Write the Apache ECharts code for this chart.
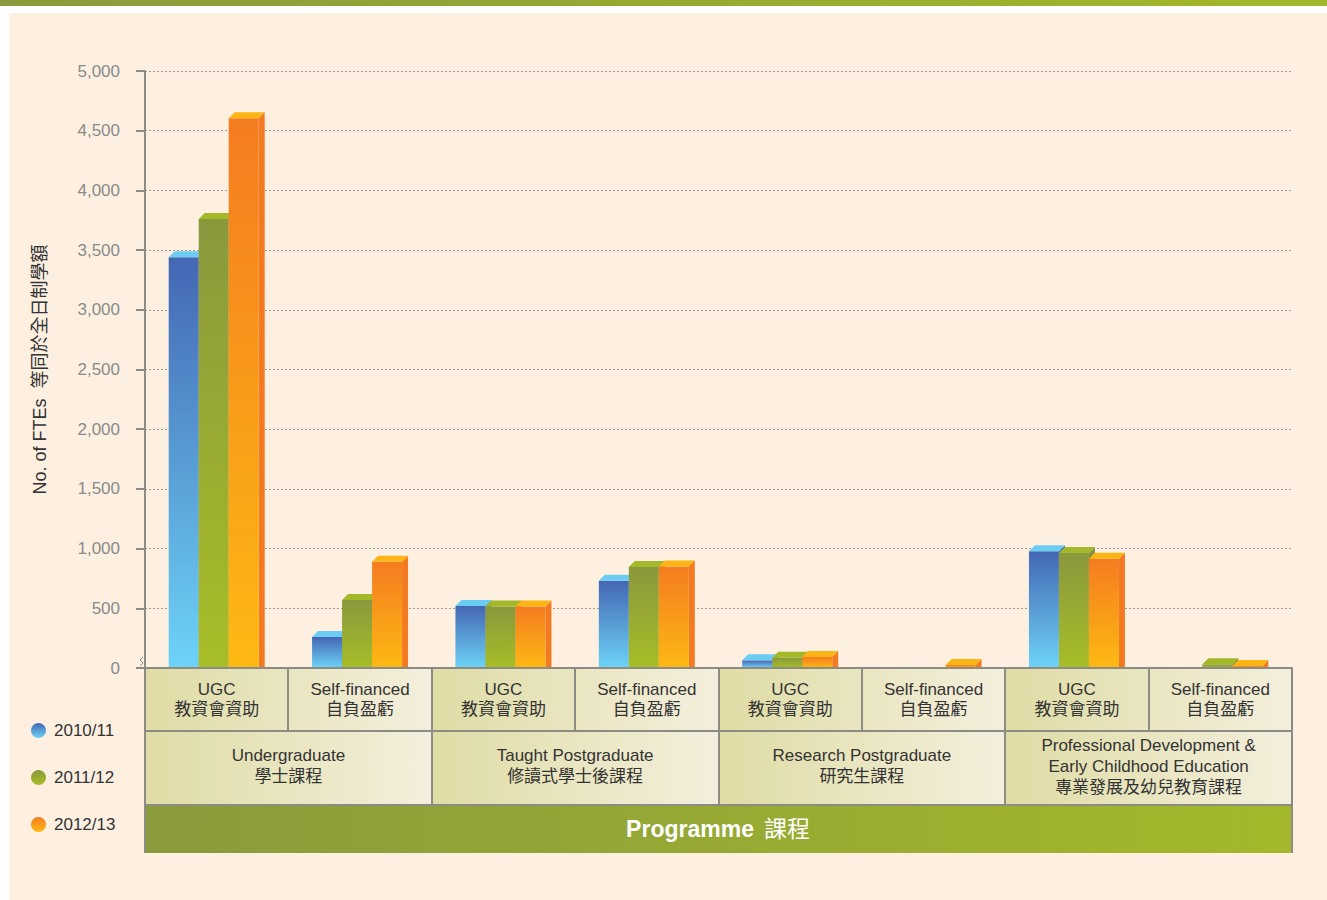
<!DOCTYPE html>
<html>
<head>
<meta charset="utf-8">
<script src="https://cdn.jsdelivr.net/npm/echarts@6/dist/echarts.min.js"></script>
<style>
  html, body { margin: 0; padding: 0; background: #ffffff; }
  #chart { width: 1327px; height: 900px; }
</style>
</head>
<body>
<div id="chart"></div>
<script>
  // 數據
  const categories = [
    'UGC\n教資會資助', 'Self-financed\n自負盈虧',
    'UGC\n教資會資助', 'Self-financed\n自負盈虧',
    'UGC\n教資會資助', 'Self-financed\n自負盈虧',
    'UGC\n教資會資助', 'Self-financed\n自負盈虧'
  ]
  const groups = [
    'Undergraduate\n學士課程',
    'Taught Postgraduate\n修讀式學士後課程',
    'Research Postgraduate\n研究生課程',
    'Professional Development &\nEarly Childhood Education\n專業發展及幼兒教育課程'
  ]
  const years = ['2010/11', '2011/12', '2012/13']
  const fte2010 = [3440, 260, 520, 730, 64, 0, 977, 0]
  const fte2011 = [3760, 570, 515, 845, 86, 0, 963, 31]
  const fte2012 = [4605, 890, 515, 850, 92, 25, 915, 17]

  const FONT = "'Liberation Sans', 'Noto Sans CJK TC', sans-serif"

  // 版面
  const gridLeft = 145, gridRight = 1292, gridTop = 71, axisY = 668
  const cellW = (gridRight - gridLeft) / categories.length
  const row1 = 731, row2 = 805, row3 = 853
  const barW = 30, depth = 6

  // 每個系列的顏色: 正面漸變(上, 下), 頂面, 側面
  const palette = [
    { top: '#4467b3', bottom: '#6dd3f8', cap: '#6ccdf4', side: '#3f68ae' },
    { top: '#8a983d', bottom: '#a7be27', cap: '#a4b92a', side: '#83933a' },
    { top: '#f47c20', bottom: '#fdb913', cap: '#fdb515', side: '#f37a20' }
  ]

  function vGrad(c1, c2) {
    return { type: 'linear', x: 0, y: 0, x2: 0, y2: 1, colorStops: [{ offset: 0, color: c1 }, { offset: 1, color: c2 }] }
  }
  function hGrad(c1, c2) {
    return { type: 'linear', x: 0, y: 0, x2: 1, y2: 0, colorStops: [{ offset: 0, color: c1 }, { offset: 1, color: c2 }] }
  }

  /** 立體柱 */
  function renderBar(params, api) {
    const v = api.value(1)
    if (!v) return null
    const s = params.seriesIndex
    const c = palette[s]
    const base = api.coord([api.value(0), 0])
    const top = api.coord([api.value(0), v])
    const x = base[0] - 48 + s * barW
    const y = top[1]
    const y0 = base[1]
    return {
      type: 'group',
      children: [
        { type: 'polygon', shape: { points: [[x + barW, y], [x + barW + depth, y - depth], [x + barW + depth, y0], [x + barW, y0]] }, style: { fill: c.side } },
        { type: 'rect', shape: { x: x, y: y, width: barW, height: y0 - y }, style: { fill: vGrad(c.top, c.bottom) } },
        { type: 'polygon', shape: { points: [[x, y], [x + depth, y - depth], [x + barW + depth, y - depth], [x + barW, y]] }, style: { fill: c.cap } }
      ]
    }
  }

  function makeSeries(name, values, idx) {
    return {
      name: name,
      type: 'custom',
      z: 2 + idx,
      renderItem: renderBar,
      itemStyle: { color: vGrad(palette[idx].top, palette[idx].bottom) },
      encode: { x: 0, y: 1 },
      data: values.map((v, i) => [i, v])
    }
  }

  // 表格背景及框線
  const graphics = [
    { type: 'rect', z: -10, silent: true, shape: { x: 9, y: 13, width: 1318, height: 887 }, style: { fill: '#fdf0e1' } },
    { type: 'rect', z: -10, silent: true, shape: { x: 0, y: 0, width: 1327, height: 6 }, style: { fill: hGrad('#8a9a3c', '#a3b82a') } }
  ]
  for (let g = 0; g < groups.length; g++) {
    const gx = gridLeft + g * 2 * cellW
    graphics.push({ type: 'rect', z: 1, silent: true, shape: { x: gx, y: axisY, width: 2 * cellW, height: row1 - axisY }, style: { fill: hGrad('#dfdca5', '#f4efdd') } })
    graphics.push({ type: 'rect', z: 1, silent: true, shape: { x: gx, y: row1, width: 2 * cellW, height: row2 - row1 }, style: { fill: hGrad('#dfdca5', '#f4efdd') } })
  }
  graphics.push({ type: 'rect', z: 1, silent: true, shape: { x: gridLeft, y: row2, width: gridRight - gridLeft, height: row3 - row2 }, style: { fill: hGrad('#8a9a3c', '#a3b82a') } })
  const border = { stroke: '#8c8c85', lineWidth: 2 }
  for (let i = 1; i < categories.length; i++) {
    const lx = Math.round(gridLeft + i * cellW)
    graphics.push({ type: 'line', z: 5, silent: true, shape: { x1: lx, y1: axisY, x2: lx, y2: i % 2 === 0 ? row2 : row1 }, style: border })
  }
  graphics.push({ type: 'line', z: 5, silent: true, shape: { x1: gridLeft, y1: row1, x2: gridRight, y2: row1 }, style: border })
  graphics.push({ type: 'line', z: 5, silent: true, shape: { x1: gridLeft, y1: row2, x2: gridRight, y2: row2 }, style: border })
  graphics.push({ type: 'line', z: 5, silent: true, shape: { x1: gridLeft, y1: axisY, x2: gridLeft, y2: row3 }, style: border })
  graphics.push({ type: 'line', z: 5, silent: true, shape: { x1: gridRight, y1: axisY, x2: gridRight, y2: row3 }, style: border })
  // 斷軸符號
  graphics.push({ type: 'polyline', z: 6, silent: true, shape: { points: [[143, 657], [140, 660], [143, 663], [140, 666]] }, style: { stroke: '#8c8c85', lineWidth: 1, fill: null } })
  graphics.push({
    type: 'text', z: 6, silent: true, x: 718, y: (row2 + row3) / 2,
    style: {
      text: '{a|Programme}   {b|課程}', align: 'center', verticalAlign: 'middle',
      rich: {
        a: { fontFamily: FONT, fontSize: 23, fontWeight: 'bold', fill: '#ffffff' },
        b: { fontFamily: FONT, fontSize: 23, fill: '#ffffff' }
      }
    }
  })

  const chart = echarts.init(document.getElementById('chart'), null, { renderer: 'svg' })

  const option = {
    backgroundColor: '#ffffff',
    animation: false,
    textStyle: { fontFamily: FONT },
    grid: { left: gridLeft, right: 1327 - gridRight, top: gridTop, bottom: 900 - axisY },
    legend: {
      data: years,
      orient: 'vertical',
      left: 31,
      top: 722,
      padding: 0,
      itemGap: 30,
      itemWidth: 15,
      itemHeight: 15,
      icon: 'circle',
      textStyle: { fontFamily: FONT, fontSize: 17, color: '#333333', padding: [0, 0, 0, 3] }
    },
    xAxis: [
      {
        type: 'category',
        data: categories,
        z: 10,
        axisLine: { lineStyle: { color: '#8c8c85', width: 2 } },
        axisTick: { show: false },
        axisLabel: { interval: 0, margin: 31, verticalAlign: 'middle', fontSize: 17, lineHeight: 20, color: '#333333', fontFamily: FONT }
      },
      {
        type: 'category',
        data: groups,
        position: 'bottom',
        z: 10,
        axisLine: { show: false },
        axisTick: { show: false },
        splitLine: { show: false },
        axisLabel: { interval: 0, margin: 98, verticalAlign: 'middle', fontSize: 17, lineHeight: 21, color: '#333333', fontFamily: FONT }
      }
    ],
    yAxis: {
      type: 'value',
      min: 0,
      max: 5000,
      interval: 500,
      name: 'No. of FTEs  等同於全日制學額',
      nameLocation: 'middle',
      nameGap: 96,
      nameTextStyle: { fontFamily: FONT, fontSize: 18, color: '#333333' },
      axisLine: { show: true, lineStyle: { color: '#8c8c85', width: 2 } },
      axisTick: { show: true, length: 9, lineStyle: { color: '#8c8c85', width: 2 } },
      axisLabel: { margin: 25, fontSize: 17, color: '#8a8a8a', fontFamily: FONT, formatter: v => v.toLocaleString('en-US') },
      splitLine: { lineStyle: { color: '#a09c98', type: [2, 2], width: 1 } }
    },
    graphic: graphics,
    series: [
      makeSeries(years[0], fte2010, 0),
      makeSeries(years[1], fte2011, 1),
      makeSeries(years[2], fte2012, 2)
    ]
  }

  chart.setOption(option)
</script>
</body>
</html>
